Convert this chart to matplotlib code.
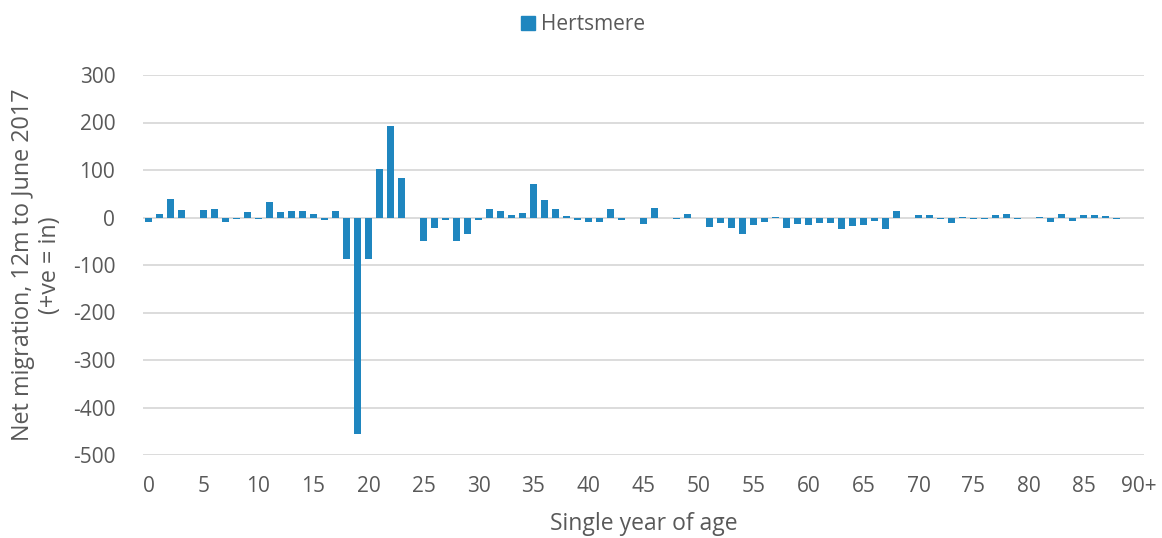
"""
Net migration by single year of age, Hertsmere, 12m to June 2017.
"""
import matplotlib
matplotlib.use("Agg")
import matplotlib.pyplot as plt
from matplotlib.patches import Patch

# Category labels (single year of age, last bucket is 90+)
ages = [str(a) for a in range(90)] + ["90+"]

# Net migration per age
net_migration = [
    -9, 8, 38, 15, 0, 15, 17, -10, -4, 12,
    -3, 32, 12, 14, 13, 8, -6, 13, -88, -456,
    -88, 103, 192, 83, 0, -50, -22, -6, -50, -35,
    -6, 17, 13, 5, 10, 71, 36, 17, 4, -6,
    -9, -10, 18, -5, -1, -13, 21, 0, -4, 8,
    0, -19, -12, -23, -35, -16, -10, 2, -23, -14,
    -15, -11, -12, -25, -18, -16, -8, -25, 13, 0,
    5, 6, -4, -11, 2, -3, -4, 5, 8, -4,
    0, 2, -10, 8, -8, 6, 5, 4, -4, 0,
    0,
]

y_ticks = [300, 200, 100, 0, -100, -200, -300, -400, -500]
series_name = "Hertsmere"

BAR_COLOR = "#1F86BF"
TEXT_COLOR = "#595959"
GRID_COLOR = "#D9D9D9"

plt.rcParams["font.family"] = ["Open Sans", "DejaVu Sans"]
plt.rcParams["axes.unicode_minus"] = False

fig = plt.figure(figsize=(11.62, 5.38), dpi=100)
ax = fig.add_axes([143 / 1162, 1 - 455 / 538, (1144 - 143) / 1162, (455 - 75) / 538])

x = list(range(len(ages)))
ax.bar(x, net_migration, width=0.66, color=BAR_COLOR, zorder=3)

ax.set_xlim(-0.5, len(ages) - 0.5)
ax.set_ylim(-500, 300)
ax.set_yticks(y_ticks)
ax.yaxis.grid(True, color=GRID_COLOR, linewidth=1.3, zorder=0)
ax.set_axisbelow(True)

tick_pos = list(range(0, len(ages), 5))
ax.set_xticks(tick_pos)
ax.set_xticklabels([ages[i] for i in tick_pos])

for s in ax.spines.values():
    s.set_visible(False)
ax.tick_params(axis="both", length=0, labelsize=15, colors=TEXT_COLOR)
ax.tick_params(axis="x", pad=15)
ax.tick_params(axis="y", pad=20)

ax.set_xlabel("Single year of age", fontsize=16.5, color=TEXT_COLOR, labelpad=11)
ax.set_ylabel("Net migration, 12m to June 2017\n(+ve = in)", fontsize=16.8,
              color=TEXT_COLOR, labelpad=8, linespacing=1.15)

fig.legend(handles=[Patch(color=BAR_COLOR, label=series_name)], loc="upper center",
           bbox_to_anchor=(583 / 1162, 1.008), frameon=False, fontsize=15,
           handlelength=0.7, handleheight=0.7, handletextpad=0.3, labelcolor=TEXT_COLOR)

fig.savefig("out.png", dpi=100)
